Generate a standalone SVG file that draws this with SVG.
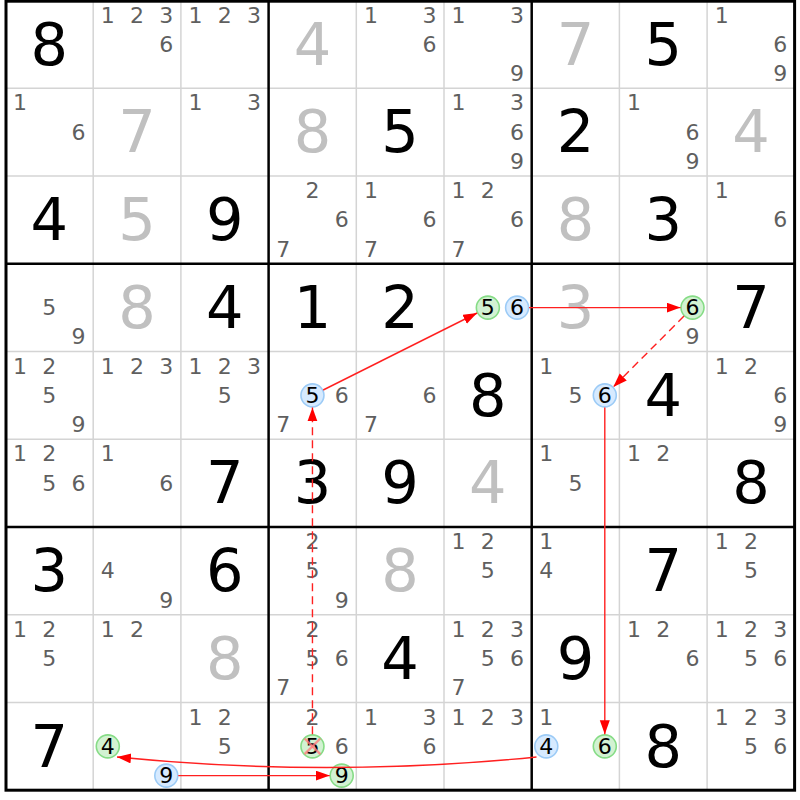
<svg xmlns="http://www.w3.org/2000/svg" width="800" height="800" viewBox="0 0 800 800">
<style>
text{font-family:"DejaVu Sans","Liberation Sans",sans-serif;text-anchor:middle}
.c{font-size:22px;fill:#5f5f5f}
.k{font-size:22px;fill:#000}
.s{font-size:59px;fill:#000}
.g{font-size:59px;fill:#c0c0c0}
.thin{stroke:#d4d4d4;stroke-width:1.5}
.thick{stroke:#000;stroke-width:2.5}
.cg{fill:#d2f2d2;stroke:#86dc86;stroke-width:1.6}
.cb{fill:#d6eaff;stroke:#9ccbf6;stroke-width:1.6}
.x{stroke:#ff7d7d;stroke-width:2.4;stroke-opacity:0.8}
.arr{fill:none;stroke:#ff2020;stroke-width:1.4;marker-end:url(#ah)}
.dash{stroke-dasharray:8 5}
</style>
<defs>
<marker id="ah" markerUnits="userSpaceOnUse" markerWidth="15" markerHeight="11" refX="14" refY="5" orient="auto">
<path d="M0,0 L14,5 L0,10 z" fill="#ff0000"/>
</marker>
</defs>
<rect x="0" y="0" width="800" height="800" fill="#fff"/>
<g id="grid">
<line class="thin" x1="93.2" y1="0" x2="93.2" y2="790"/>
<line class="thin" x1="180.9" y1="0" x2="180.9" y2="790"/>
<line class="thin" x1="356.3" y1="0" x2="356.3" y2="790"/>
<line class="thin" x1="444" y1="0" x2="444" y2="790"/>
<line class="thin" x1="619.4" y1="0" x2="619.4" y2="790"/>
<line class="thin" x1="707.1" y1="0" x2="707.1" y2="790"/>
<line class="thin" x1="5" y1="88.25" x2="795" y2="88.25"/>
<line class="thin" x1="5" y1="176" x2="795" y2="176"/>
<line class="thin" x1="5" y1="351.5" x2="795" y2="351.5"/>
<line class="thin" x1="5" y1="439.25" x2="795" y2="439.25"/>
<line class="thin" x1="5" y1="614.75" x2="795" y2="614.75"/>
<line class="thin" x1="5" y1="702.5" x2="795" y2="702.5"/>
<line class="thick" x1="268.6" y1="0" x2="268.6" y2="790"/>
<line class="thick" x1="531.7" y1="0" x2="531.7" y2="790"/>
<line class="thick" x1="5" y1="263.75" x2="795" y2="263.75"/>
<line class="thick" x1="5" y1="527" x2="795" y2="527"/>
<rect x="6" y="1.2" width="788.6" height="789" fill="none" stroke="#000" stroke-width="3"/>
</g>
<g id="cells">
<!-- row 0 -->
<g id="r0c0" transform="translate(5.5,0.5)"><text class="s" x="43.85" y="64">8</text></g>
<g id="r0c1" transform="translate(93.2,0.5)"><text class="c" x="14.6" y="22.2">1</text><text class="c" x="43.85" y="22.2">2</text><text class="c" x="73.1" y="22.2">3</text><text class="c" x="73.1" y="51.45">6</text></g>
<g id="r0c2" transform="translate(180.9,0.5)"><text class="c" x="14.6" y="22.2">1</text><text class="c" x="43.85" y="22.2">2</text><text class="c" x="73.1" y="22.2">3</text></g>
<g id="r0c3" transform="translate(268.6,0.5)"><text class="g" x="43.85" y="64">4</text></g>
<g id="r0c4" transform="translate(356.3,0.5)"><text class="c" x="14.6" y="22.2">1</text><text class="c" x="73.1" y="22.2">3</text><text class="c" x="73.1" y="51.45">6</text></g>
<g id="r0c5" transform="translate(444,0.5)"><text class="c" x="14.6" y="22.2">1</text><text class="c" x="73.1" y="22.2">3</text><text class="c" x="73.1" y="80.7">9</text></g>
<g id="r0c6" transform="translate(531.7,0.5)"><text class="g" x="43.85" y="64">7</text></g>
<g id="r0c7" transform="translate(619.4,0.5)"><text class="s" x="43.85" y="64">5</text></g>
<g id="r0c8" transform="translate(707.1,0.5)"><text class="c" x="14.6" y="22.2">1</text><text class="c" x="73.1" y="51.45">6</text><text class="c" x="73.1" y="80.7">9</text></g>
<!-- row 1 -->
<g id="r1c0" transform="translate(5.5,88.25)"><text class="c" x="14.6" y="22.2">1</text><text class="c" x="73.1" y="51.45">6</text></g>
<g id="r1c1" transform="translate(93.2,88.25)"><text class="g" x="43.85" y="64">7</text></g>
<g id="r1c2" transform="translate(180.9,88.25)"><text class="c" x="14.6" y="22.2">1</text><text class="c" x="73.1" y="22.2">3</text></g>
<g id="r1c3" transform="translate(268.6,88.25)"><text class="g" x="43.85" y="64">8</text></g>
<g id="r1c4" transform="translate(356.3,88.25)"><text class="s" x="43.85" y="64">5</text></g>
<g id="r1c5" transform="translate(444,88.25)"><text class="c" x="14.6" y="22.2">1</text><text class="c" x="73.1" y="22.2">3</text><text class="c" x="73.1" y="51.45">6</text><text class="c" x="73.1" y="80.7">9</text></g>
<g id="r1c6" transform="translate(531.7,88.25)"><text class="s" x="43.85" y="64">2</text></g>
<g id="r1c7" transform="translate(619.4,88.25)"><text class="c" x="14.6" y="22.2">1</text><text class="c" x="73.1" y="51.45">6</text><text class="c" x="73.1" y="80.7">9</text></g>
<g id="r1c8" transform="translate(707.1,88.25)"><text class="g" x="43.85" y="64">4</text></g>
<!-- row 2 -->
<g id="r2c0" transform="translate(5.5,176)"><text class="s" x="43.85" y="64">4</text></g>
<g id="r2c1" transform="translate(93.2,176)"><text class="g" x="43.85" y="64">5</text></g>
<g id="r2c2" transform="translate(180.9,176)"><text class="s" x="43.85" y="64">9</text></g>
<g id="r2c3" transform="translate(268.6,176)"><text class="c" x="43.85" y="22.2">2</text><text class="c" x="73.1" y="51.45">6</text><text class="c" x="14.6" y="80.7">7</text></g>
<g id="r2c4" transform="translate(356.3,176)"><text class="c" x="14.6" y="22.2">1</text><text class="c" x="73.1" y="51.45">6</text><text class="c" x="14.6" y="80.7">7</text></g>
<g id="r2c5" transform="translate(444,176)"><text class="c" x="14.6" y="22.2">1</text><text class="c" x="43.85" y="22.2">2</text><text class="c" x="73.1" y="51.45">6</text><text class="c" x="14.6" y="80.7">7</text></g>
<g id="r2c6" transform="translate(531.7,176)"><text class="g" x="43.85" y="64">8</text></g>
<g id="r2c7" transform="translate(619.4,176)"><text class="s" x="43.85" y="64">3</text></g>
<g id="r2c8" transform="translate(707.1,176)"><text class="c" x="14.6" y="22.2">1</text><text class="c" x="73.1" y="51.45">6</text></g>
<!-- row 3 -->
<g id="r3c0" transform="translate(5.5,263.75)"><text class="c" x="43.85" y="51.45">5</text><text class="c" x="73.1" y="80.7">9</text></g>
<g id="r3c1" transform="translate(93.2,263.75)"><text class="g" x="43.85" y="64">8</text></g>
<g id="r3c2" transform="translate(180.9,263.75)"><text class="s" x="43.85" y="64">4</text></g>
<g id="r3c3" transform="translate(268.6,263.75)"><text class="s" x="43.85" y="64">1</text></g>
<g id="r3c4" transform="translate(356.3,263.75)"><text class="s" x="43.85" y="64">2</text></g>
<g id="r3c5" transform="translate(444,263.75)"><circle class="cg" cx="43.85" cy="43.85" r="11.5"/><text class="k" x="43.85" y="51.45">5</text><circle class="cb" cx="73.1" cy="43.85" r="11.5"/><text class="k" x="73.1" y="51.45">6</text></g>
<g id="r3c6" transform="translate(531.7,263.75)"><text class="g" x="43.85" y="64">3</text></g>
<g id="r3c7" transform="translate(619.4,263.75)"><circle class="cg" cx="73.1" cy="43.85" r="11.5"/><text class="k" x="73.1" y="51.45">6</text><text class="c" x="73.1" y="80.7">9</text></g>
<g id="r3c8" transform="translate(707.1,263.75)"><text class="s" x="43.85" y="64">7</text></g>
<!-- row 4 -->
<g id="r4c0" transform="translate(5.5,351.5)"><text class="c" x="14.6" y="22.2">1</text><text class="c" x="43.85" y="22.2">2</text><text class="c" x="43.85" y="51.45">5</text><text class="c" x="73.1" y="80.7">9</text></g>
<g id="r4c1" transform="translate(93.2,351.5)"><text class="c" x="14.6" y="22.2">1</text><text class="c" x="43.85" y="22.2">2</text><text class="c" x="73.1" y="22.2">3</text></g>
<g id="r4c2" transform="translate(180.9,351.5)"><text class="c" x="14.6" y="22.2">1</text><text class="c" x="43.85" y="22.2">2</text><text class="c" x="73.1" y="22.2">3</text><text class="c" x="43.85" y="51.45">5</text></g>
<g id="r4c3" transform="translate(268.6,351.5)"><circle class="cb" cx="43.85" cy="43.85" r="11.5"/><text class="k" x="43.85" y="51.45">5</text><text class="c" x="73.1" y="51.45">6</text><text class="c" x="14.6" y="80.7">7</text></g>
<g id="r4c4" transform="translate(356.3,351.5)"><text class="c" x="73.1" y="51.45">6</text><text class="c" x="14.6" y="80.7">7</text></g>
<g id="r4c5" transform="translate(444,351.5)"><text class="s" x="43.85" y="64">8</text></g>
<g id="r4c6" transform="translate(531.7,351.5)"><text class="c" x="14.6" y="22.2">1</text><text class="c" x="43.85" y="51.45">5</text><circle class="cb" cx="73.1" cy="43.85" r="11.5"/><text class="k" x="73.1" y="51.45">6</text></g>
<g id="r4c7" transform="translate(619.4,351.5)"><text class="s" x="43.85" y="64">4</text></g>
<g id="r4c8" transform="translate(707.1,351.5)"><text class="c" x="14.6" y="22.2">1</text><text class="c" x="43.85" y="22.2">2</text><text class="c" x="73.1" y="51.45">6</text><text class="c" x="73.1" y="80.7">9</text></g>
<!-- row 5 -->
<g id="r5c0" transform="translate(5.5,439.25)"><text class="c" x="14.6" y="22.2">1</text><text class="c" x="43.85" y="22.2">2</text><text class="c" x="43.85" y="51.45">5</text><text class="c" x="73.1" y="51.45">6</text></g>
<g id="r5c1" transform="translate(93.2,439.25)"><text class="c" x="14.6" y="22.2">1</text><text class="c" x="73.1" y="51.45">6</text></g>
<g id="r5c2" transform="translate(180.9,439.25)"><text class="s" x="43.85" y="64">7</text></g>
<g id="r5c3" transform="translate(268.6,439.25)"><text class="s" x="43.85" y="64">3</text></g>
<g id="r5c4" transform="translate(356.3,439.25)"><text class="s" x="43.85" y="64">9</text></g>
<g id="r5c5" transform="translate(444,439.25)"><text class="g" x="43.85" y="64">4</text></g>
<g id="r5c6" transform="translate(531.7,439.25)"><text class="c" x="14.6" y="22.2">1</text><text class="c" x="43.85" y="51.45">5</text></g>
<g id="r5c7" transform="translate(619.4,439.25)"><text class="c" x="14.6" y="22.2">1</text><text class="c" x="43.85" y="22.2">2</text></g>
<g id="r5c8" transform="translate(707.1,439.25)"><text class="s" x="43.85" y="64">8</text></g>
<!-- row 6 -->
<g id="r6c0" transform="translate(5.5,527)"><text class="s" x="43.85" y="64">3</text></g>
<g id="r6c1" transform="translate(93.2,527)"><text class="c" x="14.6" y="51.45">4</text><text class="c" x="73.1" y="80.7">9</text></g>
<g id="r6c2" transform="translate(180.9,527)"><text class="s" x="43.85" y="64">6</text></g>
<g id="r6c3" transform="translate(268.6,527)"><text class="c" x="43.85" y="22.2">2</text><text class="c" x="43.85" y="51.45">5</text><text class="c" x="73.1" y="80.7">9</text></g>
<g id="r6c4" transform="translate(356.3,527)"><text class="g" x="43.85" y="64">8</text></g>
<g id="r6c5" transform="translate(444,527)"><text class="c" x="14.6" y="22.2">1</text><text class="c" x="43.85" y="22.2">2</text><text class="c" x="43.85" y="51.45">5</text></g>
<g id="r6c6" transform="translate(531.7,527)"><text class="c" x="14.6" y="22.2">1</text><text class="c" x="14.6" y="51.45">4</text></g>
<g id="r6c7" transform="translate(619.4,527)"><text class="s" x="43.85" y="64">7</text></g>
<g id="r6c8" transform="translate(707.1,527)"><text class="c" x="14.6" y="22.2">1</text><text class="c" x="43.85" y="22.2">2</text><text class="c" x="43.85" y="51.45">5</text></g>
<!-- row 7 -->
<g id="r7c0" transform="translate(5.5,614.75)"><text class="c" x="14.6" y="22.2">1</text><text class="c" x="43.85" y="22.2">2</text><text class="c" x="43.85" y="51.45">5</text></g>
<g id="r7c1" transform="translate(93.2,614.75)"><text class="c" x="14.6" y="22.2">1</text><text class="c" x="43.85" y="22.2">2</text></g>
<g id="r7c2" transform="translate(180.9,614.75)"><text class="g" x="43.85" y="64">8</text></g>
<g id="r7c3" transform="translate(268.6,614.75)"><text class="c" x="43.85" y="22.2">2</text><text class="c" x="43.85" y="51.45">5</text><text class="c" x="73.1" y="51.45">6</text><text class="c" x="14.6" y="80.7">7</text></g>
<g id="r7c4" transform="translate(356.3,614.75)"><text class="s" x="43.85" y="64">4</text></g>
<g id="r7c5" transform="translate(444,614.75)"><text class="c" x="14.6" y="22.2">1</text><text class="c" x="43.85" y="22.2">2</text><text class="c" x="73.1" y="22.2">3</text><text class="c" x="43.85" y="51.45">5</text><text class="c" x="73.1" y="51.45">6</text><text class="c" x="14.6" y="80.7">7</text></g>
<g id="r7c6" transform="translate(531.7,614.75)"><text class="s" x="43.85" y="64">9</text></g>
<g id="r7c7" transform="translate(619.4,614.75)"><text class="c" x="14.6" y="22.2">1</text><text class="c" x="43.85" y="22.2">2</text><text class="c" x="73.1" y="51.45">6</text></g>
<g id="r7c8" transform="translate(707.1,614.75)"><text class="c" x="14.6" y="22.2">1</text><text class="c" x="43.85" y="22.2">2</text><text class="c" x="73.1" y="22.2">3</text><text class="c" x="43.85" y="51.45">5</text><text class="c" x="73.1" y="51.45">6</text></g>
<!-- row 8 -->
<g id="r8c0" transform="translate(5.5,702.5)"><text class="s" x="43.85" y="64">7</text></g>
<g id="r8c1" transform="translate(93.2,702.5)"><circle class="cg" cx="14.6" cy="43.85" r="11.5"/><text class="k" x="14.6" y="51.45">4</text><circle class="cb" cx="73.1" cy="73.1" r="11.5"/><text class="k" x="73.1" y="80.7">9</text></g>
<g id="r8c2" transform="translate(180.9,702.5)"><text class="c" x="14.6" y="22.2">1</text><text class="c" x="43.85" y="22.2">2</text><text class="c" x="43.85" y="51.45">5</text></g>
<g id="r8c3" transform="translate(268.6,702.5)"><text class="c" x="43.85" y="22.2">2</text><circle class="cg" cx="43.85" cy="43.85" r="11.5"/><text class="k" x="43.85" y="51.45">5</text><line class="x" x1="36" y1="36" x2="51.7" y2="51.7"/><line class="x" x1="51.7" y1="36" x2="36" y2="51.7"/><text class="c" x="73.1" y="51.45">6</text><circle class="cg" cx="73.1" cy="73.1" r="11.5"/><text class="k" x="73.1" y="80.7">9</text></g>
<g id="r8c4" transform="translate(356.3,702.5)"><text class="c" x="14.6" y="22.2">1</text><text class="c" x="73.1" y="22.2">3</text><text class="c" x="73.1" y="51.45">6</text></g>
<g id="r8c5" transform="translate(444,702.5)"><text class="c" x="14.6" y="22.2">1</text><text class="c" x="43.85" y="22.2">2</text><text class="c" x="73.1" y="22.2">3</text></g>
<g id="r8c6" transform="translate(531.7,702.5)"><text class="c" x="14.6" y="22.2">1</text><circle class="cb" cx="14.6" cy="43.85" r="11.5"/><text class="k" x="14.6" y="51.45">4</text><circle class="cg" cx="73.1" cy="43.85" r="11.5"/><text class="k" x="73.1" y="51.45">6</text></g>
<g id="r8c7" transform="translate(619.4,702.5)"><text class="s" x="43.85" y="64">8</text></g>
<g id="r8c8" transform="translate(707.1,702.5)"><text class="c" x="14.6" y="22.2">1</text><text class="c" x="43.85" y="22.2">2</text><text class="c" x="73.1" y="22.2">3</text><text class="c" x="43.85" y="51.45">5</text><text class="c" x="73.1" y="51.45">6</text></g>
</g>
<g id="connectors">
<path class="arr" d="M323.2,390 L477.1,313"/>
<path class="arr" d="M529.1,307.6 L680.5,307.6"/>
<path class="arr dash" d="M684,316.1 L613.3,386.9"/>
<path class="arr" d="M604.8,407.4 L604.8,734.3"/>
<path class="arr" d="M536.5,757 Q327,778 117,757"/>
<path class="arr" d="M178.3,775.6 L329.7,775.6"/>
<path class="arr dash" d="M312.45,734.3 L312.45,407.4"/>
</g>
</svg>
